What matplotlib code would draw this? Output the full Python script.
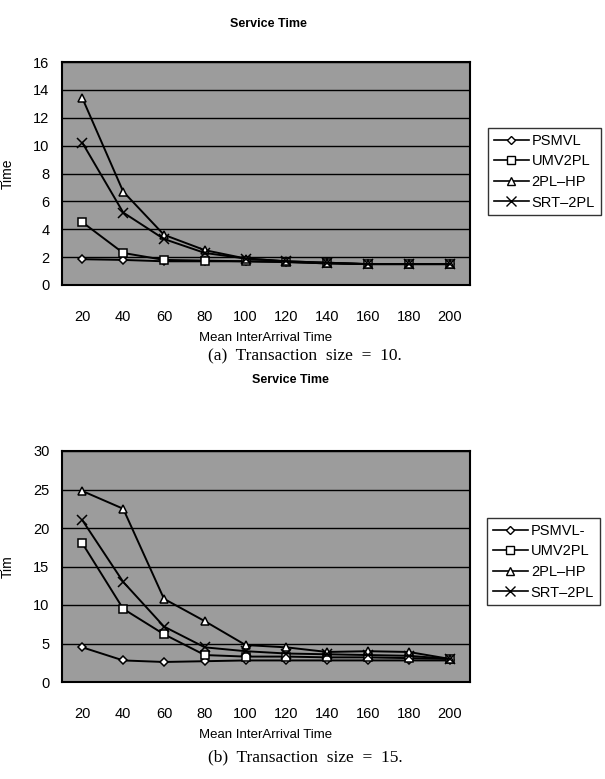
import matplotlib
matplotlib.use("Agg")
import matplotlib.pyplot as plt
from matplotlib.lines import Line2D

categories = ["20", "40", "60", "80", "100", "120", "140", "160", "180", "200"]
series_names = ["PSMVL", "UMV2PL", "2PL-HP", "SRT-2PL"]

# (a) Transaction size = 10
psmvl_a = [1.85, 1.8, 1.7, 1.7, 1.7, 1.65, 1.55, 1.5, 1.5, 1.5]
umv2pl_a = [4.5, 2.3, 1.8, 1.75, 1.7, 1.65, 1.55, 1.5, 1.5, 1.5]
hp_a = [13.4, 6.7, 3.6, 2.5, 1.9, 1.7, 1.6, 1.5, 1.5, 1.5]
srt_a = [10.2, 5.2, 3.3, 2.3, 1.9, 1.7, 1.6, 1.5, 1.5, 1.5]

# (b) Transaction size = 15
psmvl_b = [4.5, 2.8, 2.6, 2.7, 2.8, 2.8, 2.8, 2.8, 2.8, 2.8]
umv2pl_b = [18.0, 9.5, 6.2, 3.5, 3.3, 3.3, 3.2, 3.2, 3.1, 3.0]
hp_b = [24.8, 22.5, 10.8, 7.9, 4.8, 4.5, 3.9, 4.0, 3.9, 3.0]
srt_b = [21.0, 13.0, 7.2, 4.5, 4.0, 3.7, 3.6, 3.5, 3.4, 3.0]

legend_labels_a = ["PSMVL", "UMV2PL", "2PL\u2013HP", "SRT\u20132PL"]
legend_labels_b = ["PSMVL-", "UMV2PL", "2PL\u2013HP", "SRT\u20132PL"]

markers = ["D", "s", "^", "x"]
msizes = [4, 6, 6, 7]

sans = "Liberation Sans"
serif = "Liberation Serif"

fig = plt.figure(figsize=(6.05, 7.79), dpi=100)
W, H = 605.0, 779.0


def make_axes(x0, y_top, x1, y_bot):
    return fig.add_axes([x0 / W, 1 - y_bot / H, (x1 - x0) / W, (y_bot - y_top) / H])


def draw_panel(ax, data, ymax, ystep, ylabel, legend_labels, leg_box):
    x = list(range(len(categories)))
    ax.set_facecolor("#9c9c9c")
    for vals, m, ms in zip(data, markers, msizes):
        ax.plot(x, vals, color="black", lw=1.4, marker=m, ms=ms,
                mfc="white", mec="black", mew=1.1, zorder=3)
    ax.set_xlim(-0.5, len(categories) - 0.5)
    ax.set_ylim(0, ymax)
    ax.set_yticks(range(0, ymax + 1, ystep))
    ax.set_xticks(x)
    ax.set_xticklabels(categories)
    ax.yaxis.grid(True, color="black", lw=1.0)
    ax.set_axisbelow(True)
    ax.tick_params(length=0, labelsize=10.5)
    ax.tick_params(axis="x", pad=18)
    ax.tick_params(axis="y", pad=9)
    for lab in ax.get_xticklabels() + ax.get_yticklabels():
        lab.set_fontfamily(sans)
    for sp in ax.spines.values():
        sp.set_linewidth(1.5)
        sp.set_color("black")
    ax.set_ylabel(ylabel, fontsize=10, fontfamily=sans)
    ax.yaxis.set_label_coords(-47 / 408.0, 0.5)
    ax.set_xlabel("Mean InterArrival Time", fontsize=9.5, fontfamily=sans, labelpad=6)
    handles = [Line2D([0], [0], color="black", lw=1.2, marker=m, ms=ms,
                      mfc="white", mec="black", mew=1.0)
               for m, ms in zip(markers, msizes)]
    leg = fig.legend(handles, legend_labels, loc="upper left",
                     bbox_to_anchor=(leg_box[0] / W, 1 - leg_box[1] / H),
                     frameon=True, fancybox=False, edgecolor="black",
                     prop={"family": sans, "size": 10.5}, handlelength=2.4,
                     handletextpad=0.2, labelspacing=0.45, borderpad=0.4,
                     borderaxespad=0)
    leg.get_frame().set_linewidth(1.0)


ax1 = make_axes(62, 62, 470, 285)
draw_panel(ax1, [psmvl_a, umv2pl_a, hp_a, srt_a], 16, 2, "Time", legend_labels_a, (488, 128))
ax2 = make_axes(62, 451, 470, 682)
draw_panel(ax2, [psmvl_b, umv2pl_b, hp_b, srt_b], 30, 5, "Tim", legend_labels_b, (487, 518))

fig.text(268 / W, 1 - 24 / H, "Service Time", ha="center", va="center",
         fontsize=9, fontweight="bold", fontfamily=sans)
fig.text(290 / W, 1 - 380 / H, "Service Time", ha="center", va="center",
         fontsize=9, fontweight="bold", fontfamily=sans)
fig.text(305 / W, 1 - 356 / H, "(a)  Transaction  size  =  10.", ha="center", va="center",
         fontsize=12.5, fontfamily=serif)
fig.text(305 / W, 1 - 757 / H, "(b)  Transaction  size  =  15.", ha="center", va="center",
         fontsize=12.5, fontfamily=serif)

fig.savefig("out.png", dpi=100)
